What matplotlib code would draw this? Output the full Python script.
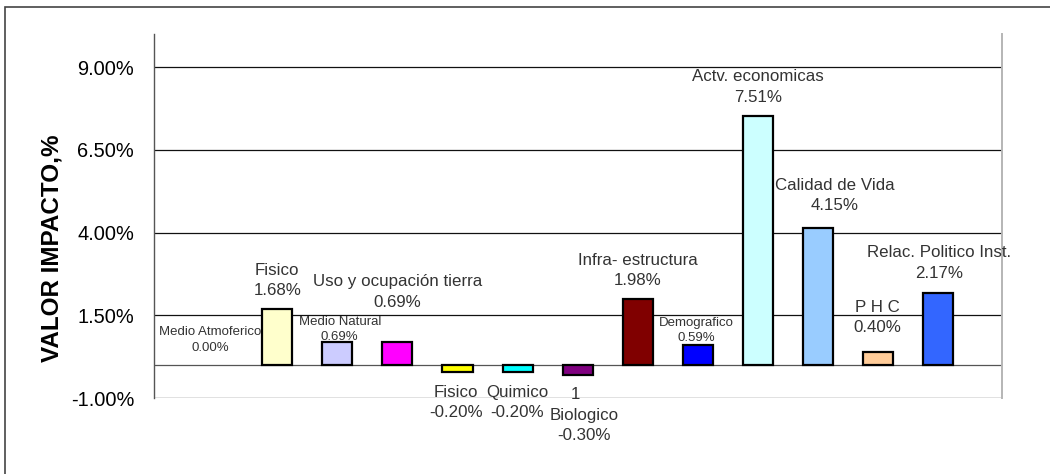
import matplotlib
matplotlib.use("Agg")
import matplotlib.pyplot as plt
from matplotlib.patches import Rectangle


plt.rcParams["font.family"] = ["Liberation Sans", "DejaVu Sans"]

# --------------------------------------------------
# Data
# --------------------------------------------------

categories = [
    "Medio Atmoferico",
    "Fisico",
    "Medio Natural",
    "Uso y ocupación tierra",
    "Fisico",
    "Quimico",
    "Biologico",
    "Infra- estructura",
    "Demografico",
    "Actv. economicas",
    "Calidad de Vida",
    "P H C",
    "Relac. Politico Inst.",
]

values = [0.00, 1.68, 0.69, 0.69, -0.20, -0.20, -0.30,
          1.98, 0.59, 7.51, 4.15, 0.40, 2.17]

bar_colors = [
    "#FFFFFF", "#FFFFCC", "#CCCCFF", "#FF00FF", "#FFFF00", "#00FFFF",
    "#800080", "#800000", "#0000FF", "#CCFFFF", "#99CCFF", "#FFCC99",
    "#3366FF",
]

y_ticks = [-1.0, 1.5, 4.0, 6.5, 9.0]

# label placement: offset in pixels of the label block centre from the
# bar end, and whether the label uses the small font
label_dx = [-7, 0, 2.5, 0, -1.5, -0.5, 6, 0, -2, 0, 17, -0.5, 0.5]
label_dy = [25, 29, 12.5, 50, -31, -31, -50.5, 29, 15, 29.5, 32, 34, 30]
small_label = [True, False, True, False, False, False, False,
               False, True, False, False, False, False]


fig = plt.figure(figsize=(10.5, 4.74), dpi=100)
ax = fig.add_axes([154 / 1050, 76 / 474, 848 / 1050, 364 / 474])

x = list(range(len(values)))

# --------------------------------------------------
# Grid and axes
# --------------------------------------------------

for yt in y_ticks:
    ax.axhline(yt, color="#111111", lw=0.9, zorder=1)

ax.axhline(0, color="#555555", lw=0.9, zorder=1)

ax.bar(
    x,
    values,
    width=0.5,
    color=bar_colors,
    edgecolor="black",
    linewidth=[0 if v == 0 else 1.6 for v in values],
    zorder=3,
)

ax.set_xlim(-1.05, 13.06)
ax.set_ylim(-1, 10)
ax.set_xticks([])
ax.set_yticks(y_ticks)
ax.set_yticklabels([f"{v:.2f}%" for v in y_ticks], fontsize=14.4)
ax.tick_params(axis="y", length=0, pad=14.4)

ax.spines["top"].set_visible(False)
ax.spines["bottom"].set_visible(False)
ax.spines["left"].set_color("#555555")
ax.spines["left"].set_linewidth(1.0)
ax.spines["right"].set_color("#B5B5B5")
ax.spines["right"].set_linewidth(1.4)

# --------------------------------------------------
# Data labels
# --------------------------------------------------

for i, (name, v) in enumerate(zip(categories, values)):
    fs = 9.5 if small_label[i] else 12.2
    if name == "Biologico":
        ax.annotate(
            "1", xy=(i, v), xytext=(-2, -20),
            textcoords="offset pixels", ha="center", va="center",
            fontsize=fs, color="#333333", zorder=0,
        )
    ax.annotate(
        f"{name}\n{v:.2f}%",
        xy=(i, v),
        xytext=(label_dx[i], label_dy[i]),
        textcoords="offset pixels",
        ha="center",
        va="center",
        fontsize=fs,
        color="#333333",
        linespacing=1.38 if small_label[i] else 1.45,
        zorder=4,
    )

fig.text(
    52 / 1050, 1 - 248 / 474,
    "VALOR IMPACTO,%",
    rotation=90,
    ha="center",
    va="center",
    fontsize=17.5,
    fontweight="bold",
)

# outer frame (only top and left edges fall inside the image)
fig.add_artist(Rectangle(
    (5 / 1050, -0.1), 1.2, (474 - 7) / 474 + 0.1,
    transform=fig.transFigure, fill=False,
    edgecolor="#444444", lw=1.2,
))

fig.savefig("out.png", dpi=100)
